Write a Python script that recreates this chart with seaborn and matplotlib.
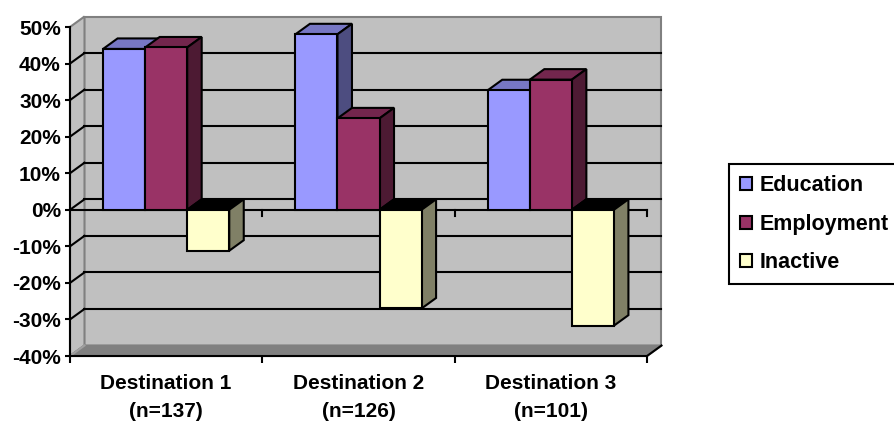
import matplotlib
matplotlib.use("Agg")
import matplotlib.pyplot as plt
import matplotlib.colors as mcolors
from matplotlib.patches import Polygon, Patch
from matplotlib.lines import Line2D
from matplotlib.transforms import IdentityTransform
import seaborn as sns
import pandas as pd

# ---- data -------------------------------------------------------------
destinations = ["Destination 1\n(n=137)", "Destination 2\n(n=126)", "Destination 3\n(n=101)"]
statuses = ["Education", "Employment", "Inactive"]
education = [44.0, 48.0, 32.7]
employment = [44.4, 25.0, 35.6]
inactive = [-11.2, -27.0, -31.7]
y_ticks = [-40, -30, -20, -10, 0, 10, 20, 30, 40, 50]

# ---- style ------------------------------------------------------------
front_colors = ["#9999FF", "#993366", "#FFFFCC"]
top_colors = ["#7777C4", "#73264D", "#000000"]
side_colors = ["#4D4D80", "#4D1A33", "#808066"]
wall_color = "#C0C0C0"
floor_color = "#808080"
edge_gray = "#808080"
DX, DY = 14.5, 10.5          # depth offset of the 3-D box, in pixels
LW = 1.5
FS = 15
FS_LEG = 15.5

plt.rcParams["font.family"] = ["Liberation Sans", "DejaVu Sans"]
plt.rcParams["font.weight"] = "bold"

records = []
for status, vals in zip(statuses, [education, employment, inactive]):
    for dest, v in zip(destinations, vals):
        records.append((dest, status, v))
df = pd.DataFrame(records, columns=["destination", "status", "share"])

fig = plt.figure(figsize=(8.94, 4.24), dpi=100)
W, H = 894, 424
ax = fig.add_axes([70 / W, (H - 356) / H, 577 / W, 329 / H])
ax.patch.set_visible(False)

sns.barplot(data=df, x="destination", y="share", hue="status",
            order=destinations, hue_order=statuses, palette=front_colors,
            saturation=1, width=0.656, edgecolor="black", linewidth=LW,
            errorbar=None, legend=False, ax=ax)
bars = list(ax.patches)

X0, X1 = -0.5, 2.5
YMIN, YMAX = -40, 50
ax.set_xlim(X0, X1)
ax.set_ylim(YMIN, YMAX)
ax.set_xlabel("")
ax.set_ylabel("")


def px(x, y, back=False):
    p = ax.transData.transform((x, y))
    if back:
        p = p + (DX, DY)
    return tuple(p)


def poly(points, fc, ec, z, lw=LW):
    ax.add_patch(Polygon(points, closed=True, facecolor=fc, edgecolor=ec,
                         linewidth=lw, transform=IdentityTransform(),
                         clip_on=False, zorder=z, joinstyle="miter"))


def seg(p, q, color="black", z=1.0, lw=LW):
    ax.add_line(Line2D([p[0], q[0]], [p[1], q[1]], color=color, linewidth=lw,
                       transform=IdentityTransform(), clip_on=False, zorder=z))


# walls and floor
poly([px(X0, YMIN, True), px(X1, YMIN, True), px(X1, YMAX, True), px(X0, YMAX, True)],
     wall_color, edge_gray, 0.5)
poly([px(X0, YMIN), px(X0, YMAX), px(X0, YMAX, True), px(X0, YMIN, True)],
     wall_color, edge_gray, 0.5)
poly([px(X0, YMIN), px(X1, YMIN), px(X1, YMIN, True), px(X0, YMIN, True)],
     floor_color, floor_color, 0.6)
seg(px(X0, YMIN), px(X0, YMIN, True), color="#A0A0A0", z=0.65)
seg(px(X1, YMIN), px(X1, YMIN, True), z=0.9)

# gridlines on the back wall and the side wall
for y in y_ticks[1:-1]:
    seg(px(X0, y, True), px(X1, y, True), z=0.7)
    seg(px(X0, y), px(X0, y, True), z=0.7)

# category axis at zero with its tick marks
seg(px(X0, 0), px(X1, 0), z=0.8)
for xb in [0.5, 1.5, 2.5]:
    a = px(xb, 0)
    seg(a, (a[0], a[1] - 6), z=0.8)

# bar top and side faces
fc_hex = [c.lower() for c in front_colors]
bars_sorted = sorted(bars, key=lambda b: b.get_x())
for rank, b in enumerate(bars_sorted):
    k = fc_hex.index(mcolors.to_hex(b.get_facecolor()).lower())
    x0 = b.get_x()
    x1 = x0 + b.get_width()
    v = b.get_height()
    top, bot = max(0, v), min(0, v)
    z = 2 + 0.01 * rank
    b.set_zorder(z)
    p_tl, p_tr = px(x0, top), px(x1, top)
    p_br = px(x1, bot)
    poly([p_tl, p_tr, (p_tr[0] + DX, p_tr[1] + DY), (p_tl[0] + DX, p_tl[1] + DY)],
         top_colors[k], "black", z - 0.005)
    poly([p_br, p_tr, (p_tr[0] + DX, p_tr[1] + DY), (p_br[0] + DX, p_br[1] + DY)],
         side_colors[k], "black", z - 0.005)

# axes
for s in ["top", "right"]:
    ax.spines[s].set_visible(False)
for s in ["left", "bottom"]:
    ax.spines[s].set_linewidth(LW)
    ax.spines[s].set_color("black")
    ax.spines[s].set_zorder(3)

ax.set_yticks(y_ticks, labels=[f"{t}%" for t in y_ticks])
ax.tick_params(axis="y", length=3.6, width=LW, direction="out", pad=3,
               labelsize=FS, colors="black")
ax.set_xticks([-0.5, 0.5, 1.5, 2.5], labels=[])
ax.set_xticks([0, 1, 2], labels=destinations, minor=True)
ax.tick_params(axis="x", which="major", length=5, width=LW, direction="out")
ax.tick_params(axis="x", which="minor", length=0, pad=13, labelsize=FS)
for lab in ax.get_xticklabels(minor=True):
    lab.set_linespacing(1.62)
    lab.set_fontweight("bold")
for lab in ax.get_yticklabels():
    lab.set_fontweight("bold")

# legend
handles = [Patch(facecolor=c, edgecolor="black", linewidth=LW) for c in front_colors]
leg = fig.legend(handles, statuses, loc="upper left",
                 bbox_to_anchor=(729 / W, 1 - 164 / H), frameon=True,
                 fancybox=False, framealpha=1, edgecolor="black",
                 prop={"size": FS_LEG, "weight": "bold"}, handlelength=0.55,
                 handleheight=0.55, handletextpad=0.35, labelspacing=0.83,
                 borderpad=0.5, borderaxespad=0)
leg.get_frame().set_linewidth(LW)

fig.savefig("out.png", dpi=100, facecolor="white")
